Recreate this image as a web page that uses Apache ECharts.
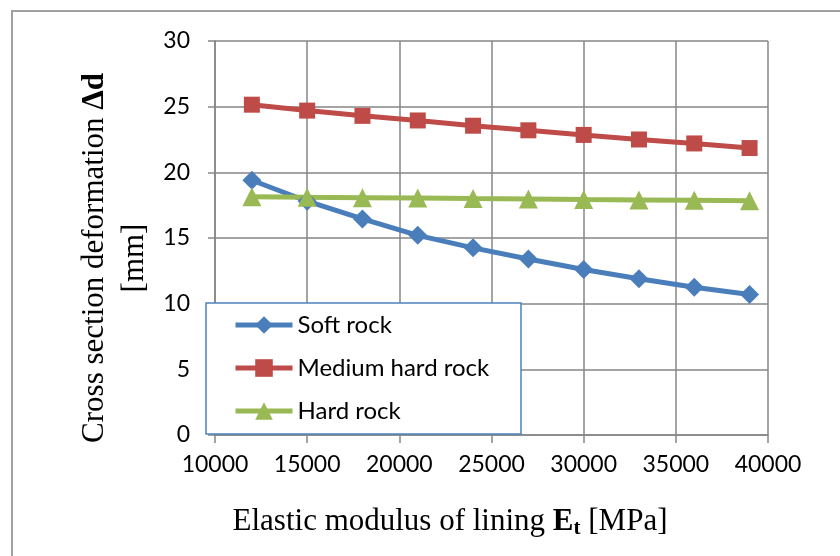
<!DOCTYPE html>
<html>
<head>
<meta charset="utf-8">
<script src="https://cdn.jsdelivr.net/npm/echarts@6/dist/echarts.min.js"></script>
<style>html,body{margin:0;padding:0;background:#fff}#c{width:840px;height:556px}</style>
</head>
<body>
<div id="c"></div>
<script>
const modulus = [12000, 15000, 18000, 21000, 24000, 27000, 30000, 33000, 36000, 39000];
const softRock = [19.4, 17.8, 16.45, 15.2, 14.25, 13.4, 12.6, 11.9, 11.25, 10.7];
const mediumHardRock = [25.15, 24.7, 24.3, 23.95, 23.55, 23.2, 22.85, 22.5, 22.2, 21.85];
const hardRock = [18.15, 18.1, 18.07, 18.04, 18.0, 17.97, 17.93, 17.9, 17.87, 17.83];
const seriesNames = ['Soft rock', 'Medium hard rock', 'Hard rock'];
const xTitle = 'Elastic modulus of lining';
const yTitle = 'Cross section deformation';

const chart = echarts.init(document.getElementById('c'), null, {renderer: 'canvas'});
const pair = arr => modulus.map((x, i) => [x, arr[i]]);
const gridColor = '#868686';
const labelFont = 'Lato';
const serif = '"Liberation Serif", "Times New Roman", serif';

chart.setOption({
  animation: false,
  backgroundColor: '#fff',
  grid: {left: 215, top: 41, right: 72, bottom: 121},
  xAxis: {
    type: 'value', min: 10000, max: 40000, interval: 5000,
    axisLine: {show: true, lineStyle: {color: gridColor, width: 1.5}},
    axisTick: {show: true, length: 8, lineStyle: {color: gridColor, width: 1.5}},
    splitLine: {show: true, lineStyle: {color: gridColor, width: 1.5}},
    axisLabel: {color: '#000', fontFamily: labelFont, fontSize: 23, margin: 18, formatter: v => String(v)}
  },
  yAxis: {
    type: 'value', min: 0, max: 30, interval: 5,
    axisLine: {show: true, lineStyle: {color: gridColor, width: 1.5}},
    axisTick: {show: true, length: 7, lineStyle: {color: gridColor, width: 1.5}},
    splitLine: {show: true, lineStyle: {color: gridColor, width: 1.5}},
    axisLabel: {color: '#000', fontFamily: labelFont, fontSize: 23, margin: 25}
  },
  legend: {
    orient: 'vertical', left: 233, top: 313, z: 10, padding: 0,
    itemWidth: 57, itemHeight: 22, itemGap: 19,
    lineStyle: {width: 5},
    textStyle: {color: '#000', fontFamily: labelFont, fontSize: 24},
    data: seriesNames
  },
  series: [
    {name: seriesNames[0], type: 'line', data: pair(softRock), symbol: 'diamond', symbolSize: 19,
     lineStyle: {color: '#4A7EBB', width: 5}, itemStyle: {color: '#4A7EBB'}},
    {name: seriesNames[1], type: 'line', data: pair(mediumHardRock), symbol: 'rect', symbolSize: 16,
     lineStyle: {color: '#BE4B48', width: 5}, itemStyle: {color: '#BE4B48'}},
    {name: seriesNames[2], type: 'line', data: pair(hardRock), symbol: 'triangle', symbolSize: 19,
     lineStyle: {color: '#98B954', width: 5}, itemStyle: {color: '#98B954'}}
  ],
  graphic: [
    {type: 'rect', z: -10, shape: {x: 12, y: 11, width: 900, height: 700},
     style: {fill: 'none', stroke: '#A0A0A0', lineWidth: 2}},
    {type: 'rect', z: 9, shape: {x: 206, y: 303, width: 315, height: 131},
     style: {fill: '#fff', stroke: '#4F81BD', lineWidth: 1.5}},
    {type: 'text', x: 450, y: 522, z: 5,
     style: {
       text: xTitle + ' {b|E}{s|t} [MPa]',
       fontFamily: serif, fontSize: 31, fill: '#000', align: 'center', verticalAlign: 'middle',
       rich: {
         b: {fontFamily: serif, fontSize: 31, fontWeight: 'bold', fill: '#000'},
         s: {fontFamily: serif, fontSize: 21, fontWeight: 'bold', fill: '#000', padding: [14, 0, 0, 0]}
       }
     }},
    {type: 'text', x: 115, y: 258, rotation: Math.PI / 2, z: 5,
     style: {
       text: yTitle + ' {b|Δd}\n[mm]',
       fontFamily: serif, fontSize: 31, lineHeight: 40, fill: '#000', align: 'center', verticalAlign: 'middle',
       rich: {
         b: {fontFamily: serif, fontSize: 31, fontWeight: 'bold', fill: '#000', lineHeight: 40}
       }
     }}
  ]
});
</script>
</body>
</html>
